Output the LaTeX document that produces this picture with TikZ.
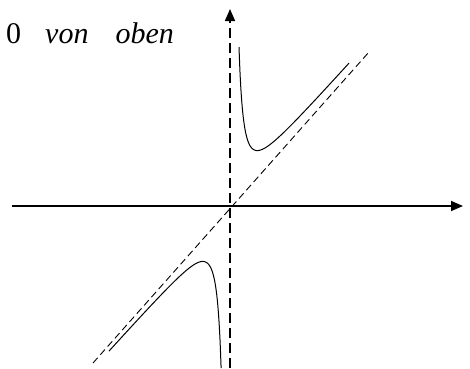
\documentclass[tikz,border=0pt]{standalone}
\usepackage{fontspec}
\setmainfont{Liberation Serif}
\usetikzlibrary{arrows.meta,positioning}
\definecolor{ink}{HTML}{000000}
\tikzset{
  % ---- axes ------------------------------------------------------
  axis/.style      = {draw=ink, line width=1.6pt,
                      -{Triangle[length=12pt,width=10pt]}},
  yaxis/.style     = {axis, dash pattern=on 10pt off 5pt},
  % ---- asymptote and graph ---------------------------------------
  asym/.style      = {draw=ink, line width=.9pt, dash pattern=on 7pt off 4pt},
  graph/.style     = {draw=ink, line width=1pt, smooth, samples=120},
  % ---- label -----------------------------------------------------
  lbl/.style       = {font=\fontsize{30}{34}\selectfont, text=ink,
                      inner sep=0pt, anchor=base west},
}
\begin{document}
\begin{tikzpicture}[x=1pt,y=1pt]
  \useasboundingbox (-230,-162) rectangle (240,206);
  \coordinate (xl) at (-218,0);
  \coordinate (xr) at (233,0);
  \coordinate (yb) at (0,-162);
  \coordinate (yt) at (0,197);
  \coordinate (al) at (-137,-157);
  \coordinate (ar) at (139,154);
  \draw[axis] (xl) -- (xr);
  \draw[yaxis] (yb) -- (yt);
  \draw[asym] (al) -- (ar);
  % two branches
  \draw[graph, domain=9:119] plot (\x, {1.11*\x+10+11259/(\x*\x)});
  \draw[graph, domain=-121:-8.9] plot (\x, {1.11*\x-10-11259/(\x*\x)});
  \node[lbl] (txt) at (-224,163) {0\hspace{24pt}\textit{von}\hspace{27pt}\textit{oben}};
\end{tikzpicture}
\end{document}
